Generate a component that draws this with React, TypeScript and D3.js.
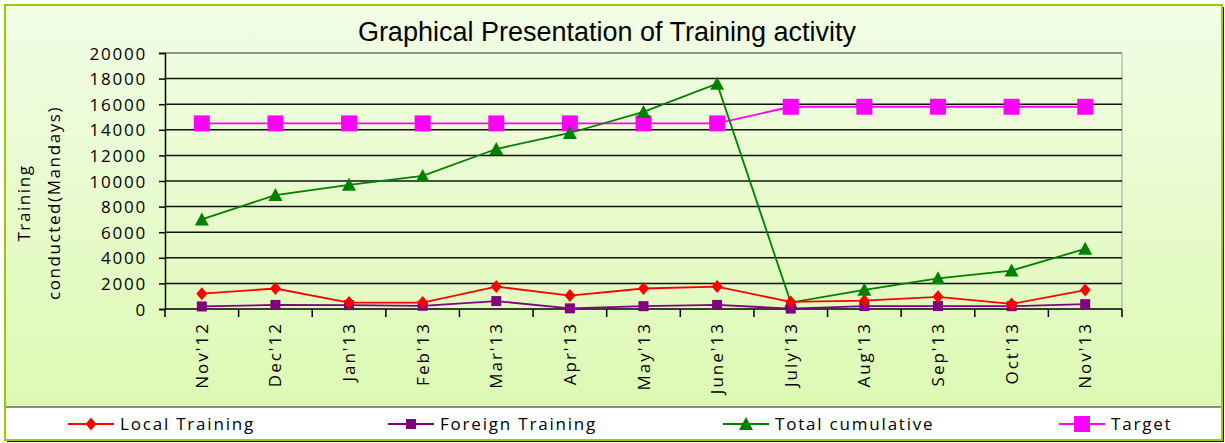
import { useEffect, useRef } from "react";
import * as d3 from "d3";

const months = ["Nov'12", "Dec'12", "Jan'13", "Feb'13", "Mar'13", "Apr'13", "May'13", "June'13", "July'13", "Aug'13", "Sep'13", "Oct'13", "Nov'13"];
const localTraining = [1200, 1600, 500, 500, 1750, 1050, 1600, 1750, 550, 650, 950, 400, 1480];
const foreignTraining = [200, 320, 300, 250, 620, 50, 220, 320, 30, 230, 230, 220, 380];
const totalCumulative = [7000, 8900, 9700, 10400, 12500, 13750, 15400, 17600, 500, 1500, 2400, 3000, 4700];
const target = [14500, 14500, 14500, 14500, 14500, 14500, 14500, 14500, 15800, 15800, 15800, 15800, 15800];
const yTicks = [0, 2000, 4000, 6000, 8000, 10000, 12000, 14000, 16000, 18000, 20000];

const series = [
  { name: "Local Training", values: localTraining, color: "#ff0000", marker: "diamond", size: 11 },
  { name: "Foreign Training", values: foreignTraining, color: "#800080", marker: "square", size: 10 },
  { name: "Total cumulative", values: totalCumulative, color: "#008000", marker: "triangle", size: 12 },
  { name: "Target", values: target, color: "#ff00ff", marker: "square", size: 16 },
];

const FONT = "'Open Sans', sans-serif";

export default function App() {
  const svgRef = useRef<SVGSVGElement>(null);
  const width = 1225;
  const height = 443;

  useEffect(() => {
    if (!svgRef.current) return;
    const svg = d3.select(svgRef.current);
    svg.selectAll("*").remove();

    const plot = { left: 165, right: 1122, top: 53, bottom: 309 };

    const defs = svg.append("defs");
    const grad = defs.append("linearGradient")
      .attr("id", "bg").attr("x1", 0).attr("y1", 0).attr("x2", 0).attr("y2", 1);
    grad.append("stop").attr("offset", "0%").attr("stop-color", "#f2fde6");
    grad.append("stop").attr("offset", "100%").attr("stop-color", "#dbf9af");

    // frame with shadow
    svg.append("rect").attr("x", 7).attr("y", 7).attr("width", 1217).attr("height", 435).attr("fill", "#111");
    svg.append("rect").attr("x", 5).attr("y", 5).attr("width", 1217).attr("height", 435)
      .attr("fill", "url(#bg)").attr("stroke", "#99cc00").attr("stroke-width", 2);

    // Scales
    const x = d3.scaleBand<string>().domain(months).range([plot.left, plot.right]);
    const y = d3.scaleLinear().domain([0, 20000]).range([plot.bottom, plot.top]);
    const cx = (i: number) => x(months[i])! + x.bandwidth() / 2;

    // plot border (top and right grey)
    svg.append("line").attr("x1", plot.left).attr("x2", plot.right).attr("y1", plot.top).attr("y2", plot.top)
      .attr("stroke", "#707070").attr("stroke-width", 1.5);
    svg.append("line").attr("x1", plot.right).attr("x2", plot.right).attr("y1", plot.top).attr("y2", plot.bottom)
      .attr("stroke", "#a0a0a0").attr("stroke-width", 1);

    // gridlines
    svg.append("g").selectAll("line").data(yTicks.filter(t => t > 0 && t < 20000)).join("line")
      .attr("x1", plot.left).attr("x2", plot.right)
      .attr("y1", d => y(d)).attr("y2", d => y(d))
      .attr("stroke", "#111").attr("stroke-width", 1.5);

    // Axes
    const yAxis = d3.axisLeft(y).tickValues(yTicks).tickSize(6).tickFormat(d => `${d}`);
    const gy = svg.append("g").attr("transform", `translate(${plot.left},0)`).call(yAxis);
    gy.select(".domain").attr("stroke", "#000").attr("stroke-width", 1.5);
    gy.selectAll(".tick line").attr("stroke", "#000").attr("stroke-width", 1.5);
    gy.selectAll(".tick text").attr("font-family", FONT).attr("font-size", 17).attr("fill", "#000")
      .attr("letter-spacing", 1.8).attr("x", -18).attr("dy", "0.36em");

    svg.append("line").attr("x1", plot.left).attr("x2", plot.right).attr("y1", plot.bottom).attr("y2", plot.bottom)
      .attr("stroke", "#000").attr("stroke-width", 1.5);
    const boundaries = d3.range(months.length + 1).map(i => plot.left + i * x.bandwidth());
    svg.append("g").selectAll("line").data(boundaries).join("line")
      .attr("x1", d => d).attr("x2", d => d).attr("y1", plot.bottom).attr("y2", plot.bottom + 8)
      .attr("stroke", "#000").attr("stroke-width", 1.5);

    svg.append("g").selectAll("text").data(months).join("text")
      .attr("transform", (d, i) => `translate(${cx(i) + 6},${plot.bottom + 13}) rotate(-90)`)
      .attr("text-anchor", "end")
      .attr("font-family", FONT).attr("font-size", 17).attr("letter-spacing", 2)
      .attr("fill", "#000").text(d => d);

    // y title
    const yt = svg.append("text").attr("transform", `translate(30,203) rotate(-90)`)
      .attr("text-anchor", "middle").attr("font-family", FONT).attr("font-size", 17)
      .attr("letter-spacing", 1.6).attr("fill", "#000");
    yt.append("tspan").attr("x", 0).attr("dy", 0).text("Training");
    yt.append("tspan").attr("x", 0).attr("dy", 30).text("conducted(Mandays)");

    // title
    svg.append("text").attr("x", 607).attr("y", 41).attr("text-anchor", "middle")
      .attr("font-family", "'Liberation Sans', Arial, sans-serif").attr("font-size", 27)
      .attr("fill", "#000").text("Graphical Presentation of Training activity");

    const drawMarker = (sel: d3.Selection<SVGGElement, unknown, null, undefined>, px: number, py: number, marker: string, size: number, color: string) => {
      const h = size / 2;
      if (marker === "diamond") {
        sel.append("path").attr("d", `M${px},${py - h - 1}L${px + h},${py}L${px},${py + h + 1}L${px - h},${py}Z`).attr("fill", color);
      } else if (marker === "square") {
        sel.append("rect").attr("x", px - h).attr("y", py - h).attr("width", size).attr("height", size).attr("fill", color);
      } else {
        sel.append("path").attr("d", `M${px},${py - h - 1}L${px + h + 1},${py + h}L${px - h - 1},${py + h}Z`).attr("fill", color);
      }
    };

    const line = d3.line<number>().x((_, i) => cx(i)).y(d => y(d));
    const order = [3, 2, 1, 0];
    order.forEach(si => {
      const s = series[si];
      const g = svg.append("g");
      g.append("path").datum(s.values).attr("fill", "none").attr("stroke", s.color)
        .attr("stroke-width", 1.8).attr("d", line);
      s.values.forEach((v, i) => drawMarker(g, cx(i), y(v), s.marker, s.size, s.color));
    });

    // legend
    svg.append("rect").attr("x", 6).attr("y", 407).attr("width", 1215).attr("height", 32)
      .attr("fill", "#fff");
    svg.append("line").attr("x1", 6).attr("x2", 1221).attr("y1", 407).attr("y2", 407)
      .attr("stroke", "#222").attr("stroke-width", 1.2);
    const legendX = [68, 388, 723, 1059];
    series.forEach((s, i) => {
      const g = svg.append("g").attr("transform", `translate(${legendX[i]},424)`);
      g.append("line").attr("x1", 0).attr("x2", 46).attr("y1", 0).attr("y2", 0)
        .attr("stroke", s.color).attr("stroke-width", 1.8);
      drawMarker(g, 23, 0, s.marker, s.size, s.color);
      g.append("text").attr("x", 52).attr("y", 6).attr("font-family", FONT).attr("font-size", 17)
        .attr("letter-spacing", 1.8).attr("fill", "#000").text(s.name);
    });
  }, []);

  return (
    <svg ref={svgRef} width={width} height={height}
      style={{ position: "absolute", left: 0, top: 0, background: "#fff" }} />
  );
}
